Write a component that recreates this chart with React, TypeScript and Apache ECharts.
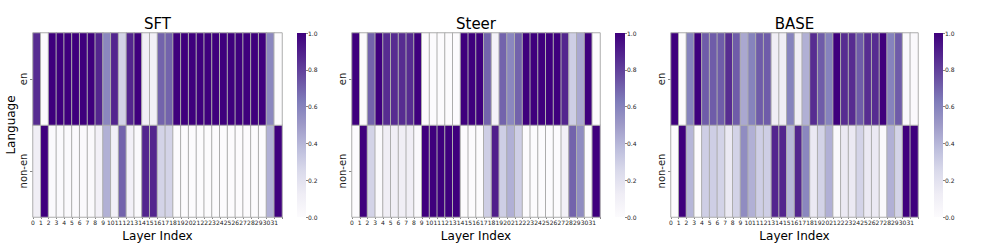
import React, { useEffect, useRef } from "react";
import * as echarts from "echarts";

const layers: string[] = Array.from({ length: 32 }, (_, i) => String(i));
const languages: string[] = ["non-en", "en"];
const titles: string[] = ["SFT", "Steer", "BASE"];
const colorbarTicks: number[] = [0, 0.2, 0.4, 0.6, 0.8, 1.0];

// values per layer 0..31
const sftEn: number[] = [0.86, 0.0, 1.0, 1.0, 1.0, 1.0, 1.0, 1.0, 0.88, 0.58, 0.88, 0.28, 0.88, 1.0, 0.1, 0.1, 0.7, 0.7, 1.0, 1.0, 1.0, 1.0, 1.0, 1.0, 1.0, 1.0, 1.0, 1.0, 1.0, 1.0, 0.58, 0.0];
const sftNonEn: number[] = [0.12, 1.0, 0.02, 0.02, 0.02, 0.02, 0.02, 0.02, 0.1, 0.42, 0.1, 0.7, 0.1, 0.02, 0.88, 0.88, 0.28, 0.28, 0.0, 0.0, 0.0, 0.0, 0.0, 0.0, 0.0, 0.0, 0.0, 0.0, 0.0, 0.0, 0.42, 1.0];
const steerEn: number[] = [1.0, 0.0, 0.7, 1.0, 0.86, 0.86, 0.86, 0.86, 1.0, 0.0, 0.0, 0.0, 0.0, 0.0, 1.0, 1.0, 1.0, 0.7, 0.08, 0.7, 0.58, 0.7, 1.0, 1.0, 1.0, 1.0, 1.0, 0.88, 0.3, 0.45, 1.0, 0.0];
const steerNonEn: number[] = [0.0, 1.0, 0.28, 0.02, 0.12, 0.12, 0.12, 0.12, 0.02, 1.0, 1.0, 1.0, 1.0, 1.0, 0.0, 0.0, 0.0, 0.3, 0.9, 0.3, 0.42, 0.3, 0.0, 0.0, 0.0, 0.0, 0.0, 0.1, 0.7, 0.56, 0.0, 1.0];
const baseEn: number[] = [1.0, 0.0, 0.6, 1.0, 0.72, 0.72, 0.72, 0.86, 0.72, 0.45, 0.6, 0.72, 0.72, 0.12, 0.12, 0.6, 0.12, 0.42, 0.86, 0.72, 0.6, 1.0, 0.86, 0.86, 0.72, 0.86, 0.86, 1.0, 0.6, 0.72, 0.02, 0.02];
const baseNonEn: number[] = [0.0, 1.0, 0.4, 0.0, 0.3, 0.3, 0.28, 0.15, 0.28, 0.56, 0.42, 0.3, 0.3, 0.88, 0.88, 0.4, 0.88, 0.58, 0.15, 0.28, 0.42, 0.02, 0.15, 0.15, 0.28, 0.15, 0.15, 0.02, 0.42, 0.28, 1.0, 1.0];

const panels = [
  { en: sftEn, nonEn: sftNonEn },
  { en: steerEn, nonEn: steerNonEn },
  { en: baseEn, nonEn: baseNonEn },
];

const PURPLES = ["#fcfbfd", "#efedf5", "#dadaeb", "#bcbddc", "#9e9ac8", "#807dba", "#6a51a3", "#54278f", "#3f007d"];
const FONT = "DejaVu Sans";

const heatLayout = [
  { left: 33, width: 249 },
  { left: 352, width: 248 },
  { left: 671, width: 247 },
];
const cbLayout = [
  { left: 297, width: 9 },
  { left: 615, width: 10 },
  { left: 934, width: 9 },
];
const TOP = 33;
const HEIGHT = 184;

export default function App() {
  const ref = useRef<HTMLDivElement>(null);
  useEffect(() => {
    if (!ref.current) return;
    const chart = echarts.init(ref.current, undefined, { renderer: "svg" });

    const grids: any[] = [];
    const xAxes: any[] = [];
    const yAxes: any[] = [];
    const series: any[] = [];
    const graphics: any[] = [];

    heatLayout.forEach((g) => grids.push({ left: g.left, width: g.width, top: TOP, height: HEIGHT, containLabel: false }));
    cbLayout.forEach((g) => grids.push({ left: g.left, width: g.width, top: TOP, height: HEIGHT, containLabel: false }));

    for (let i = 0; i < 3; i++) {
      xAxes.push({ type: "category", gridIndex: i, data: layers, show: false });
    }
    for (let i = 0; i < 3; i++) {
      xAxes.push({
        type: "value",
        gridIndex: i,
        min: 0,
        max: 32,
        interval: 1,
        position: "bottom",
        axisLine: { show: false },
        splitLine: { show: false },
        axisTick: { show: true, length: 2, lineStyle: { color: "#333", width: 0.6 } },
        axisLabel: {
          fontFamily: FONT,
          fontSize: 6,
          color: "#222",
          margin: 2,
          formatter: (v: number) => (v < 32 ? layers[v] : ""),
        },
        name: "Layer Index",
        nameLocation: "middle",
        nameGap: 10,
        nameTextStyle: { fontFamily: FONT, fontSize: 12, color: "#000" },
      });
    }
    for (let i = 0; i < 3; i++) {
      xAxes.push({ type: "category", gridIndex: 3 + i, data: ["c"], show: false });
    }
    for (let i = 0; i < 3; i++) {
      yAxes.push({
        type: "category",
        gridIndex: i,
        data: languages,
        axisLine: { show: false },
        axisTick: { show: true, length: 3, alignWithLabel: true, lineStyle: { color: "#333", width: 0.6 } },
        axisLabel: { rotate: 90, fontFamily: FONT, fontSize: 10, color: "#222", margin: 5 },
        splitLine: { show: false },
        name: i === 0 ? "Language" : "",
        nameLocation: "middle",
        nameGap: 16,
        nameRotate: 90,
        nameTextStyle: { fontFamily: FONT, fontSize: 12, color: "#000" },
      });
    }
    for (let i = 0; i < 3; i++) {
      yAxes.push({
        type: "value",
        gridIndex: 3 + i,
        min: 0,
        max: 1,
        interval: 0.2,
        position: "right",
        axisLine: { show: false },
        splitLine: { show: false },
        axisTick: { show: true, length: 2, lineStyle: { color: "#333", width: 0.6 } },
        axisLabel: {
          fontFamily: FONT,
          fontSize: 6,
          color: "#222",
          margin: 2,
          formatter: (v: number) => v.toFixed(1),
        },
      });
    }

    panels.forEach((p, i) => {
      const data: number[][] = [];
      layers.forEach((_, x) => {
        data.push([x, 0, p.nonEn[x]]);
        data.push([x, 1, p.en[x]]);
      });
      series.push({
        type: "heatmap",
        xAxisIndex: i,
        yAxisIndex: i,
        data,
        itemStyle: { borderColor: "#adadad", borderWidth: 1 },
        emphasis: { disabled: true },
      });
    });

    cbLayout.forEach((_, i) => {
      series.push({
        type: "bar",
        xAxisIndex: 6 + i,
        yAxisIndex: 3 + i,
        data: [colorbarTicks[colorbarTicks.length - 1]],
        barWidth: "100%",
        silent: true,
        itemStyle: {
          color: new echarts.graphic.LinearGradient(
            0,
            0,
            0,
            1,
            PURPLES.slice()
              .reverse()
              .map((c, k) => ({ offset: k / (PURPLES.length - 1), color: c }))
          ),
        },
      });
    });

    heatLayout.forEach((g, i) => {
      graphics.push({
        type: "text",
        x: g.left + g.width / 2,
        y: 24,
        style: {
          text: titles[i],
          fill: "#000",
          font: `15px "${FONT}"`,
          textAlign: "center",
          textVerticalAlign: "middle",
        },
      });
    });

    chart.setOption({
      animation: false,
      backgroundColor: "#fff",
      grid: grids,
      xAxis: xAxes,
      yAxis: yAxes,
      visualMap: {
        show: false,
        type: "continuous",
        min: 0,
        max: 1,
        seriesIndex: [0, 1, 2],
        inRange: { color: PURPLES },
      },
      series,
      graphic: graphics,
    });

    return () => chart.dispose();
  }, []);

  return (
    <div
      ref={ref}
      style={{ position: "fixed", left: 0, top: 0, width: 987, height: 247 }}
    />
  );
}
